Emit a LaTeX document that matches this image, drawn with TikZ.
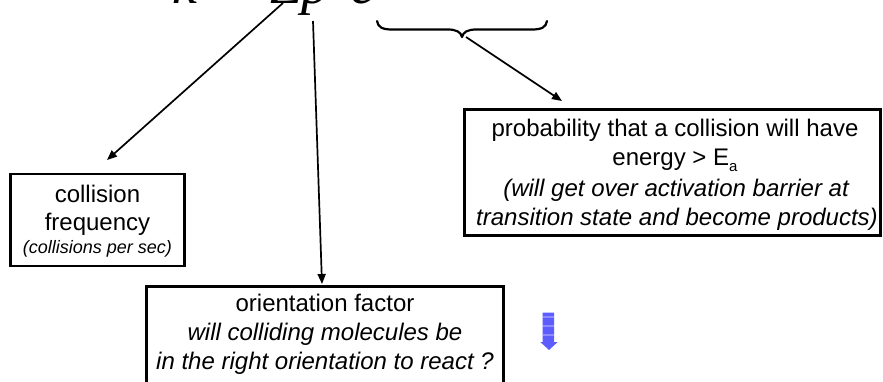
\documentclass[tikz,border=0pt]{standalone}
\usepackage{fontspec}
\setmainfont{Liberation Sans}
\newfontfamily\formulafont{Liberation Serif}
\usetikzlibrary{arrows.meta}
\definecolor{navblue}{RGB}{92,92,255}
\definecolor{navstripe}{RGB}{140,140,255}
\begin{document}
\begin{tikzpicture}[x=1pt,y=-1pt,
  box/.style={draw=black, line width=2.6pt, rectangle, inner sep=0pt},
  link/.style={draw=black, line width=1.7pt, -{Triangle[length=10pt,width=8pt]}},
  txt/.style={anchor=base, inner sep=0pt, font=\fontsize{24}{29}\selectfont},
  itxt/.style={txt, font=\fontsize{24}{29}\selectfont\itshape},
  small/.style={anchor=base, inner sep=0pt, font=\fontsize{18}{22}\selectfont\itshape},
  eq/.style={anchor=base west, inner sep=0pt, font=\fontsize{56}{56}\formulafont\itshape}]
\useasboundingbox (0,0) rectangle (883,381);

% rate equation (only its lower edge lies on the page)
\node[eq] (k) at (172,3) {k};
\node[eq] (eqs) at (216,3) {\upshape =};
\node[eq] (Zp) at (270,3) {Zp};
\node[eq] (ee) at (350,3) {e};

% brace under the exponential factor
\draw[line width=2.2pt, line cap=round, line join=round]
  (377,21) .. controls (378,27) and (382,29.5) .. (392,29.5) -- (448,29.5)
  .. controls (456,29.5) and (461,32) .. (462,37)
  .. controls (463,32) and (468,29.5) .. (476,29.5) -- (532,29.5)
  .. controls (542,29.5) and (546,27) .. (547,21);
\coordinate (braceTip) at (466,37);

% boxes
\node[box, minimum width=174pt, minimum height=92pt] (colbox) at (97.5,220) {};
\node[box, minimum width=416pt, minimum height=126pt] (probbox) at (672.5,172.5) {};
\node[box, minimum width=357pt, minimum height=114pt] (orbox) at (325,343.5) {};

% collision frequency
\node[txt] (c1) at (97.5,202) {collision};
\node[txt] (c2) at (97.5,230) {frequency};
\node[small] (c3) at (97.5,253) {(collisions per sec)};

% energy factor
\node[txt] (p1) at (675,136) {probability that a collision will have};
\node[txt] (p2) at (675,165) {energy > E\raisebox{-6pt}{\fontsize{15}{15}\selectfont a}};
\node[itxt] (p3) at (676,196) {(will get over activation barrier at};
\node[itxt] (p4) at (677,225) {transition state and become products)};

% orientation factor
\node[txt] (o1) at (325,311) {orientation factor};
\node[itxt] (o2) at (325,340) {will colliding molecules be};
\node[itxt] (o3) at (325,369) {in the right orientation to react ?};

% connectors
\coordinate (zFoot) at (283,3);
\coordinate (pFoot) at (313,21);
\coordinate (colTip) at (107,160);
\coordinate (orTip) at (322,284);
\coordinate (probTip) at (562,101);
\draw[link] (zFoot) -- (colTip);
\draw[link] (pFoot) -- (orTip);
\draw[link] (braceTip) -- (probTip);

% navigation arrow
\fill[navblue] (542.7,312.7) -- (554,312.7) -- (554,342) -- (557.7,342)
  -- (549,350) -- (540.3,342) -- (542.7,342) -- cycle;
\foreach \sy in {315.5,324.5,333.5}
  \fill[navstripe] (542.7,\sy) rectangle (554,\sy+2);
\end{tikzpicture}
\end{document}
